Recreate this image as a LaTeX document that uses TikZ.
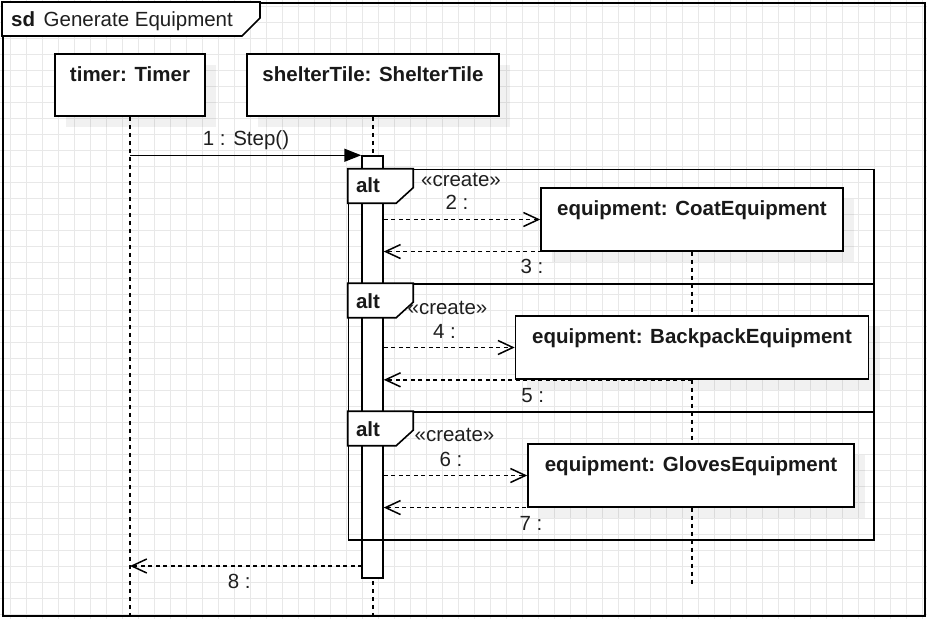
\documentclass[tikz,border=0pt]{standalone}
\usepackage{fontspec}
\setmainfont{Liberation Sans}
\usetikzlibrary{arrows.meta,shadows}
\begin{document}
\begin{tikzpicture}[x=1pt,y=-1pt,
  gridline/.style={draw=black!9, line width=0.8pt},
  dg/.style={font=\fontsize{20.5}{24}\selectfont, text=black!88, inner sep=0pt},
  dgb/.style={font=\fontsize{20.5}{24}\selectfont\bfseries, text=black!90, inner sep=0pt},
  sdframe/.style={draw, line width=2pt, inner sep=0pt},
  head/.style={draw, line width=1.6pt, fill=white, inner sep=0pt,
    drop shadow={shadow xshift=11pt, shadow yshift=-11pt, fill=black, opacity=0.055}},
  lifeline/.style={line width=1.5pt, dash pattern=on 4pt off 4pt},
  actbar/.style={draw, line width=1.5pt, fill=white, inner sep=0pt},
  altbox/.style={draw, line width=1.6pt, inner sep=0pt},
  altlbl/.style={draw, line width=1.6pt, fill=white},
  msg/.style={line width=1.5pt, -{Triangle[length=17pt,width=13pt]}},
  ret/.style={line width=1.5pt, dash pattern=on 4pt off 3.5pt, -{Straight Barb[length=15pt,width=14pt]}}
]
\useasboundingbox (0,0) rectangle (927,619);
\fill[white] (0,0) rectangle (927,619);
\foreach \gx in {0,...,57} \draw[gridline] (10.5+16*\gx,0) -- (10.5+16*\gx,619);
\foreach \gy in {0,...,38} \draw[gridline] (0,6+16*\gy) -- (927,6+16*\gy);

% frame
\node[sdframe, minimum width=922pt, minimum height=613pt] (sd) at (464,309.5) {};
\draw[line width=1.6pt, fill=white] (sd.north west) -- ++(258,0) -- ++(0,16) -- ++(-18,18) -- ++(-240,0) -- cycle;
\node[dgb, anchor=base west] (sdkw) at (11,26) {sd};
\node[dg, anchor=base west] (sdname) at (43.5,26) {Generate Equipment};

% lifelines
\coordinate (timerend) at (130,619);
\coordinate (shelterend) at (373,619);
\coordinate (eqend) at (692,587);
\node[head, minimum width=150pt, minimum height=62pt] (timer) at (130,85) {};
\node[head, minimum width=252pt, minimum height=62pt] (shelter) at (373,85) {};
\draw[lifeline] (timer.south) -- (timerend);
\draw[lifeline] (shelter.south) -- (shelterend);
\node[actbar, minimum width=21pt, minimum height=422pt] (act) at (372.5,367) {};

% alt fragments
\node[altbox, minimum width=525.5pt, minimum height=114.5pt] (alt1) at (611.25,226.75) {};
\node[altbox, minimum width=525.5pt, minimum height=128pt] (alt2) at (611.25,348) {};
\node[altbox, minimum width=525.5pt, minimum height=128pt] (alt3) at (611.25,476) {};
\draw[altlbl] (alt1.north west) -- ++(65.5,0) -- ++(0,19) -- ++(-17,15.5) -- ++(-48.5,0) -- cycle;
\draw[altlbl] (alt2.north west) -- ++(65.5,0) -- ++(0,19) -- ++(-17,15.5) -- ++(-48.5,0) -- cycle;
\draw[altlbl] (alt3.north west) -- ++(65.5,0) -- ++(0,19) -- ++(-17,15.5) -- ++(-48.5,0) -- cycle;

% created objects
\node[head, minimum width=302pt, minimum height=62.5pt] (coat) at (692,219.5) {};
\draw[lifeline] (coat.south) -- (eqend);
\node[head, minimum width=353pt, minimum height=63pt] (bp) at (692,347.5) {};
\node[head, minimum width=326pt, minimum height=62.5pt] (gl) at (691,475.5) {};

% messages
\draw[msg] (act.north west -| timer.south) -- (act.north west);
\draw[ret] (act.east |- coat.west) -- (coat.west);
\draw[ret] (coat.south) -- (coat.south -| act.east);
\draw[ret] (act.east |- bp.west) -- (bp.west);
\draw[ret] (bp.south) -- (bp.south -| act.east);
\draw[ret] (act.east |- gl.west) -- (gl.west);
\draw[ret] (gl.south) -- (gl.south -| act.east);
\coordinate (r8) at (362,566);
\draw[ret] (r8) -- (r8 -| timer.south);

% texts
\node[dgb, anchor=base] (timerlbl) at (130,81.5) {timer: Timer};
\node[dgb, anchor=base] (shelterlbl) at (373,81) {shelterTile: ShelterTile};
\node[dg, anchor=base] (m1) at (246,145) {1 : Step()};
\node[dgb, anchor=base] (alt1kw) at (368,192.7) {alt};
\node[dg, anchor=base] (c1) at (461,186) {«create»};
\node[dg, anchor=base] (m2) at (457,209.3) {2 :};
\node[dgb, anchor=base] (coatlbl) at (692,215) {equipment: CoatEquipment};
\node[dg, anchor=base] (m3) at (532,273.3) {3 :};
\node[dgb, anchor=base] (alt2kw) at (368,308.3) {alt};
\node[dg, anchor=base] (c2) at (447.5,314) {«create»};
\node[dg, anchor=base] (m4) at (444.5,338.3) {4 :};
\node[dgb, anchor=base] (bplbl) at (692,343.3) {equipment: BackpackEquipment};
\node[dg, anchor=base] (m5) at (532.8,402.3) {5 :};
\node[dgb, anchor=base] (alt3kw) at (368,436) {alt};
\node[dg, anchor=base] (c3) at (454.5,441) {«create»};
\node[dg, anchor=base] (m6) at (451,466) {6 :};
\node[dgb, anchor=base] (gllbl) at (691,471) {equipment: GlovesEquipment};
\node[dg, anchor=base] (m7) at (531,530) {7 :};
\node[dg, anchor=base] (m8) at (239.3,588.3) {8 :};
\end{tikzpicture}
\end{document}
